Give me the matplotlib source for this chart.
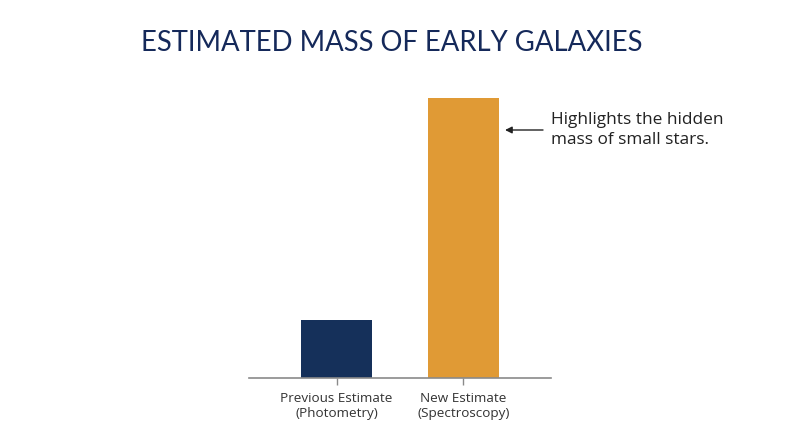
import matplotlib
matplotlib.use("Agg")
import matplotlib.pyplot as plt

categories = ["Previous Estimate\n(Photometry)", "New Estimate\n(Spectroscopy)"]
values = [1.0, 4.85]
colors = ["#15305a", "#e09a35"]
title = "ESTIMATED MASS OF EARLY GALAXIES"
note = "Highlights the hidden\nmass of small stars."

W, H = 800, 447
fig = plt.figure(figsize=(W / 100, H / 100), dpi=100)
fig.patch.set_facecolor("white")

ax = fig.add_axes([249 / W, 69 / H, 302 / W, (378 - 90) / H])
x = list(range(len(categories)))
ax.bar(x, values, width=0.56, color=colors, zorder=2)
ax.set_xlim(-0.689, 1.689)
ax.set_ylim(0, values[1] * 288 / 280.4)

for s in ["top", "right", "left"]:
    ax.spines[s].set_visible(False)
ax.spines["bottom"].set_color("#8a8a8a")
ax.spines["bottom"].set_linewidth(1.2)
ax.set_yticks([])
ax.set_xticks(x)
ax.set_xticklabels(categories, fontfamily="Open Sans", fontsize=9.7, color="#333333",
                   linespacing=1.25)
ax.tick_params(axis="x", colors="#8a8a8a", length=5, width=1, labelcolor="#333333", pad=5)

y_arrow = values[1] * (378 - 130) / 280.4
ax.annotate("", xy=(1.327, y_arrow), xytext=(1.626, y_arrow),
            arrowprops=dict(arrowstyle="-|>", color="#222222", lw=1, mutation_scale=10,
                            shrinkA=0, shrinkB=0),
            annotation_clip=False)
ax.text(1.687, y_arrow, note, ha="left", va="center", fontfamily="Open Sans",
        fontsize=12.4, color="#222222", linespacing=1.25, clip_on=False)

fig.text(392 / W, 1 - 43 / H, title, ha="center", va="center", fontfamily="Lato",
         fontsize=19.8, color="#15295a")

fig.savefig("out.png", dpi=100, facecolor="white")
